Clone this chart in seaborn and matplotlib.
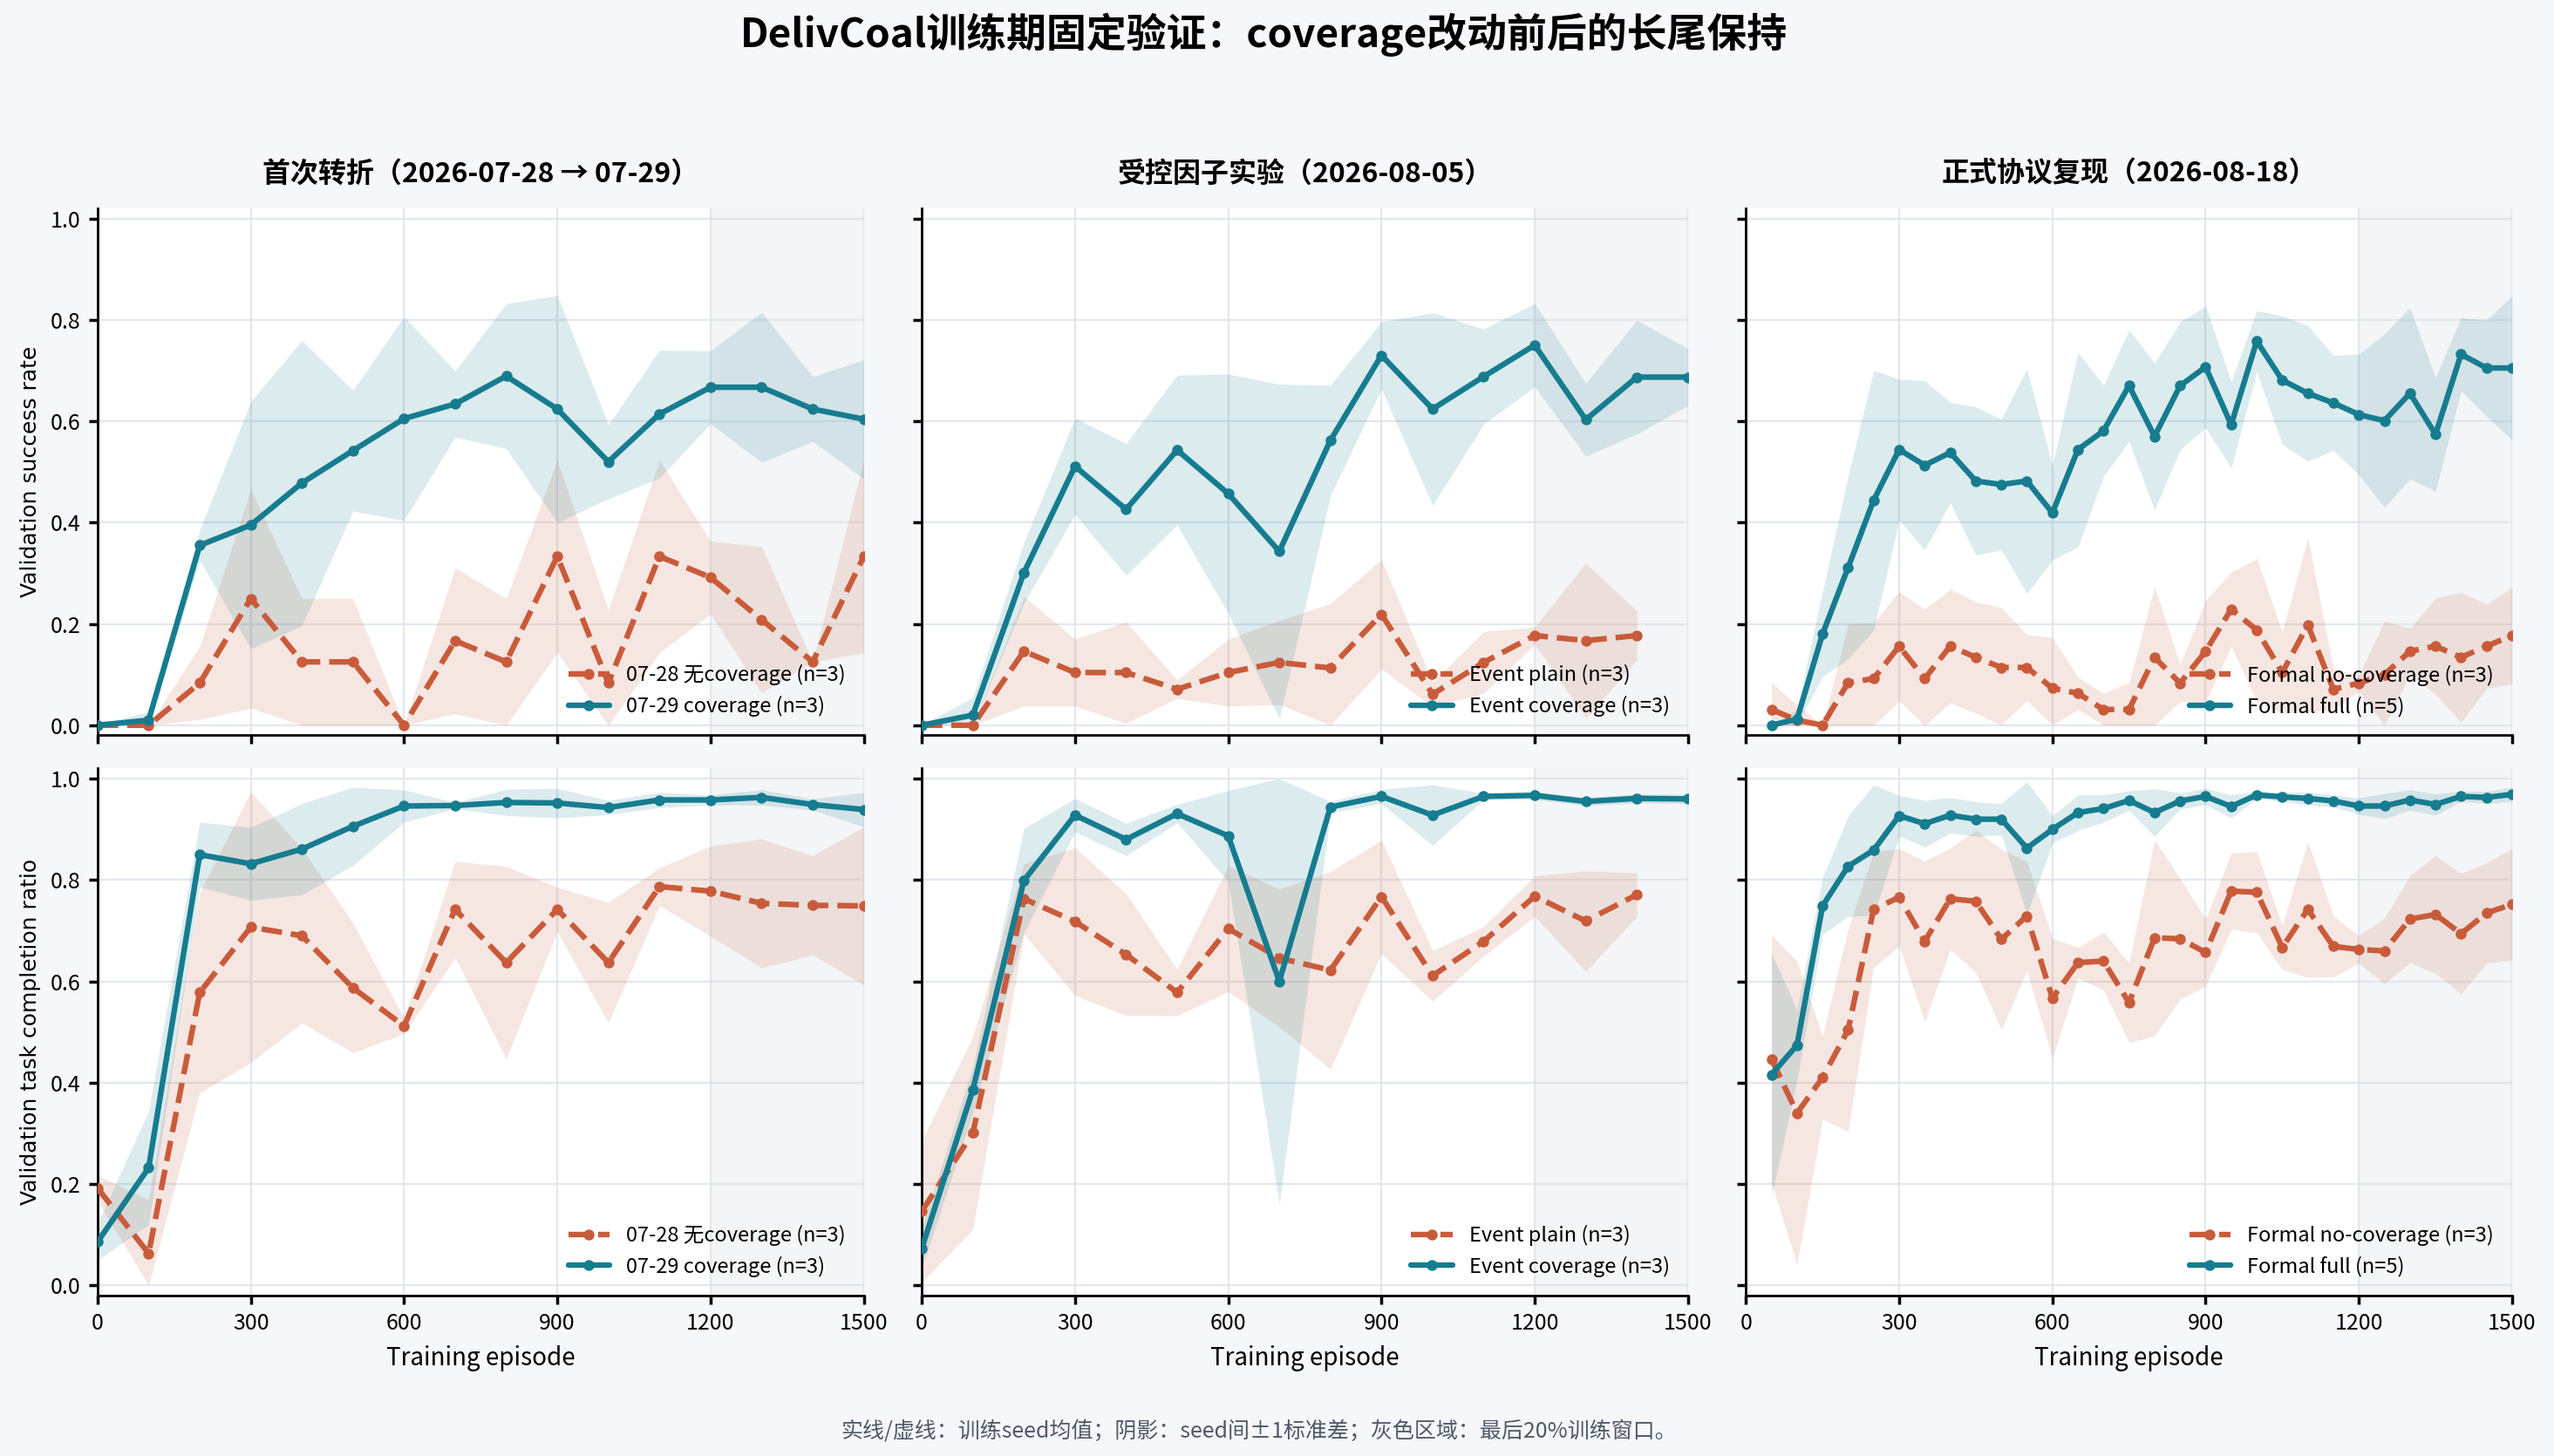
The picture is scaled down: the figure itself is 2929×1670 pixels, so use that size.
import numpy as np
import matplotlib
matplotlib.use("Agg")
import matplotlib.pyplot as plt
import seaborn as sns

# ---- data ----
ep_full = [0, 100, 200, 300, 400, 500, 600, 700, 800, 900, 1000, 1100, 1200, 1300, 1400, 1500]
ep_event_plain = [0, 100, 200, 300, 400, 500, 600, 700, 800, 900, 1000, 1100, 1200, 1300, 1400]
ep_formal = [50, 100, 150, 200, 250, 300, 350, 400, 450, 500, 550, 600, 650, 700, 750,
             800, 850, 900, 950, 1000, 1050, 1100, 1150, 1200, 1250, 1300, 1350, 1400, 1450, 1500]

# success rate
s_0728_mean = [0.0, 0.0, 0.0833, 0.25, 0.125, 0.125, 0.0, 0.1667, 0.125, 0.3333, 0.0833, 0.3333, 0.2917, 0.2083, 0.125, 0.3333]
s_0728_std = [0.0, 0.0, 0.072, 0.216, 0.125, 0.125, 0.0, 0.144, 0.125, 0.19, 0.144, 0.19, 0.072, 0.144, 0.0, 0.19]
s_0729_mean = [0.0, 0.01, 0.355, 0.395, 0.478, 0.542, 0.605, 0.634, 0.689, 0.624, 0.52, 0.614, 0.667, 0.667, 0.624, 0.604]
s_0729_std = [0.0, 0.017, 0.03, 0.244, 0.281, 0.119, 0.201, 0.065, 0.143, 0.224, 0.073, 0.126, 0.072, 0.148, 0.064, 0.117]

s_plain_mean = [0.0, 0.0, 0.146, 0.104, 0.104, 0.071, 0.104, 0.124, 0.113, 0.219, 0.061, 0.124, 0.177, 0.167, 0.177]
s_plain_std = [0.0, 0.0, 0.108, 0.066, 0.10, 0.018, 0.066, 0.083, 0.127, 0.108, 0.024, 0.061, 0.017, 0.153, 0.048]
s_event_mean = [0.0, 0.02, 0.301, 0.511, 0.426, 0.543, 0.457, 0.343, 0.562, 0.730, 0.624, 0.688, 0.750, 0.603, 0.687, 0.687]
s_event_std = [0.0, 0.035, 0.06, 0.095, 0.13, 0.148, 0.236, 0.33, 0.109, 0.066, 0.19, 0.094, 0.082, 0.072, 0.112, 0.056]

s_nocov_mean = [0.031, 0.01, 0.0, 0.084, 0.092, 0.156, 0.092, 0.156, 0.134, 0.114, 0.114, 0.073, 0.063, 0.031, 0.031,
                0.134, 0.083, 0.146, 0.229, 0.188, 0.104, 0.198, 0.071, 0.083, 0.10, 0.146, 0.156, 0.134, 0.156, 0.177]
s_nocov_std = [0.053, 0.03, 0.0, 0.116, 0.11, 0.108, 0.137, 0.112, 0.11, 0.118, 0.065, 0.10, 0.032, 0.032, 0.053,
               0.139, 0.037, 0.10, 0.073, 0.141, 0.08, 0.172, 0.04, 0.016, 0.106, 0.045, 0.095, 0.128, 0.083, 0.095]
s_full_mean = [0.0, 0.012, 0.18, 0.311, 0.444, 0.544, 0.513, 0.538, 0.482, 0.475, 0.482, 0.419, 0.544, 0.581, 0.670,
               0.570, 0.670, 0.707, 0.593, 0.758, 0.681, 0.655, 0.636, 0.613, 0.601, 0.655, 0.574, 0.732, 0.705, 0.705]
s_full_std = [0.0, 0.02, 0.084, 0.18, 0.256, 0.139, 0.167, 0.099, 0.146, 0.129, 0.222, 0.093, 0.192, 0.09, 0.11,
              0.145, 0.126, 0.12, 0.085, 0.06, 0.127, 0.134, 0.094, 0.119, 0.171, 0.169, 0.112, 0.072, 0.095, 0.142]

# task completion ratio
c_0728_mean = [0.192, 0.063, 0.578, 0.707, 0.690, 0.587, 0.512, 0.742, 0.637, 0.742, 0.637, 0.787, 0.778, 0.754, 0.750, 0.749]
c_0728_std = [0.025, 0.106, 0.198, 0.267, 0.172, 0.128, 0.015, 0.095, 0.19, 0.044, 0.119, 0.037, 0.089, 0.127, 0.098, 0.156]
c_0729_mean = [0.086, 0.232, 0.850, 0.832, 0.861, 0.906, 0.946, 0.947, 0.953, 0.952, 0.943, 0.958, 0.958, 0.963, 0.949, 0.939]
c_0729_std = [0.036, 0.112, 0.064, 0.072, 0.09, 0.077, 0.032, 0.006, 0.026, 0.029, 0.014, 0.015, 0.01, 0.015, 0.011, 0.034]

c_plain_mean = [0.146, 0.301, 0.763, 0.718, 0.653, 0.578, 0.704, 0.646, 0.622, 0.767, 0.611, 0.679, 0.768, 0.719, 0.771]
c_plain_std = [0.14, 0.19, 0.069, 0.146, 0.12, 0.046, 0.124, 0.136, 0.195, 0.112, 0.05, 0.029, 0.04, 0.099, 0.043]
c_event_mean = [0.073, 0.386, 0.799, 0.928, 0.880, 0.931, 0.887, 0.600, 0.944, 0.965, 0.928, 0.965, 0.967, 0.955, 0.961, 0.960]
c_event_std = [0.04, 0.045, 0.103, 0.033, 0.032, 0.018, 0.09, 0.44, 0.011, 0.014, 0.06, 0.006, 0.008, 0.008, 0.009, 0.009]

c_nocov_mean = [0.447, 0.340, 0.410, 0.504, 0.742, 0.766, 0.679, 0.763, 0.758, 0.683, 0.729, 0.567, 0.637, 0.640, 0.558,
                0.686, 0.684, 0.657, 0.778, 0.776, 0.667, 0.742, 0.669, 0.663, 0.660, 0.723, 0.732, 0.694, 0.735, 0.752]
c_nocov_std = [0.245, 0.299, 0.082, 0.2, 0.114, 0.096, 0.158, 0.1, 0.14, 0.178, 0.108, 0.118, 0.03, 0.057, 0.079,
               0.193, 0.119, 0.066, 0.075, 0.08, 0.044, 0.134, 0.06, 0.027, 0.065, 0.086, 0.116, 0.119, 0.099, 0.11]
c_full_mean = [0.416, 0.474, 0.749, 0.827, 0.859, 0.927, 0.911, 0.928, 0.920, 0.920, 0.863, 0.900, 0.933, 0.941, 0.957,
               0.933, 0.956, 0.965, 0.945, 0.968, 0.964, 0.961, 0.956, 0.946, 0.946, 0.958, 0.949, 0.965, 0.963, 0.969]
c_full_std = [0.24, 0.07, 0.056, 0.099, 0.129, 0.04, 0.046, 0.035, 0.034, 0.031, 0.131, 0.027, 0.035, 0.027, 0.019,
              0.047, 0.016, 0.016, 0.023, 0.007, 0.009, 0.013, 0.012, 0.016, 0.025, 0.02, 0.021, 0.01, 0.012, 0.014]

panel_titles = ["首次转折（2026-07-28 → 07-29）", "受控因子实验（2026-08-05）", "正式协议复现（2026-08-18）"]
base_labels = ["07-28 无coverage (n=3)", "Event plain (n=3)", "Formal no-coverage (n=3)"]
cov_labels = ["07-29 coverage (n=3)", "Event coverage (n=3)", "Formal full (n=5)"]
row_ylabels = ["Validation success rate", "Validation task completion ratio"]

ORANGE = "#c95b3a"
TEAL = "#167c8f"
BG = "#f5f7fa"

sns.set_theme(style="whitegrid")
plt.rcParams.update({
    "figure.facecolor": BG,
    "axes.facecolor": "white",
    "axes.edgecolor": "black",
    "axes.linewidth": 1.0,
    "grid.color": "#e3e7ed",
    "grid.linewidth": 0.8,
    "text.color": "black",
    "axes.labelcolor": "black",
    "xtick.bottom": True,
    "ytick.left": True,
    "xtick.major.size": 3.5,
    "ytick.major.size": 3.5,
    "xtick.color": "black",
    "ytick.color": "black",
    "xtick.labelsize": 9,
    "ytick.labelsize": 9,
})
plt.rcParams["font.family"] = ["Noto Sans CJK SC", "DejaVu Sans"]


def draw_series(ax, x, mean, std, color, ls, label):
    mean = np.asarray(mean)
    std = np.asarray(std)
    lo = np.clip(mean - std, 0, 1)
    hi = np.clip(mean + std, 0, 1)
    ax.fill_between(x, lo, hi, color=color, alpha=0.15, lw=0, zorder=1)
    sns.lineplot(x=x, y=mean, ax=ax, color=color, linestyle=ls, lw=2.3,
                 marker="o", markersize=4.5, markeredgewidth=0, label=label, zorder=3)


fig, axes = plt.subplots(2, 3, figsize=(14.645, 8.35), dpi=200, sharex=True, sharey=True)
fig.subplots_adjust(left=0.0382, right=0.9836, bottom=0.1102, top=0.8569, wspace=0.0757, hspace=0.0629)

rows = [
    [(ep_full, s_0728_mean, s_0728_std, ep_full, s_0729_mean, s_0729_std),
     (ep_event_plain, s_plain_mean, s_plain_std, ep_full, s_event_mean, s_event_std),
     (ep_formal, s_nocov_mean, s_nocov_std, ep_formal, s_full_mean, s_full_std)],
    [(ep_full, c_0728_mean, c_0728_std, ep_full, c_0729_mean, c_0729_std),
     (ep_event_plain, c_plain_mean, c_plain_std, ep_full, c_event_mean, c_event_std),
     (ep_formal, c_nocov_mean, c_nocov_std, ep_formal, c_full_mean, c_full_std)],
]

for r, row in enumerate(rows):
    for c, (xb, mb, sb, xc, mc, sc) in enumerate(row):
        ax = axes[r, c]
        ax.set_axisbelow(True)
        # last 20% of training
        ax.axvspan(1200, 1500, color="#dfe3e8", alpha=0.35, lw=0, zorder=0.6)
        draw_series(ax, xb, mb, sb, ORANGE, "--", base_labels[c])
        draw_series(ax, xc, mc, sc, TEAL, "-", cov_labels[c])
        ax.set_xlim(0, 1500)
        ax.set_ylim(-0.02, 1.02)
        ax.set_xticks([0, 300, 600, 900, 1200, 1500])
        ax.set_yticks([0.0, 0.2, 0.4, 0.6, 0.8, 1.0])
        sns.despine(ax=ax)
        ax.legend(loc="lower right", frameon=False, fontsize=8.5)
        if r == 0:
            ax.set_title(panel_titles[c], fontsize=11.5, fontweight="bold", pad=11)
            ax.set_xlabel("")
        else:
            ax.set_xlabel("Training episode", fontsize=10)
        if c == 0:
            ax.set_ylabel(row_ylabels[r], fontsize=9, family="DejaVu Sans")
        else:
            ax.set_ylabel("")

fig.suptitle("DelivCoal训练期固定验证：coverage改动前后的长尾保持", x=0.495, y=0.976,
             va="center", fontsize=16.5, fontweight="bold")
fig.text(0.493, 0.0168, "实线/虚线：训练seed均值；阴影：seed间±1标准差；灰色区域：最后20%训练窗口。",
         ha="center", va="center", fontsize=9, color="#4f5a68")

fig.savefig("out.png", dpi=200, facecolor=BG)
